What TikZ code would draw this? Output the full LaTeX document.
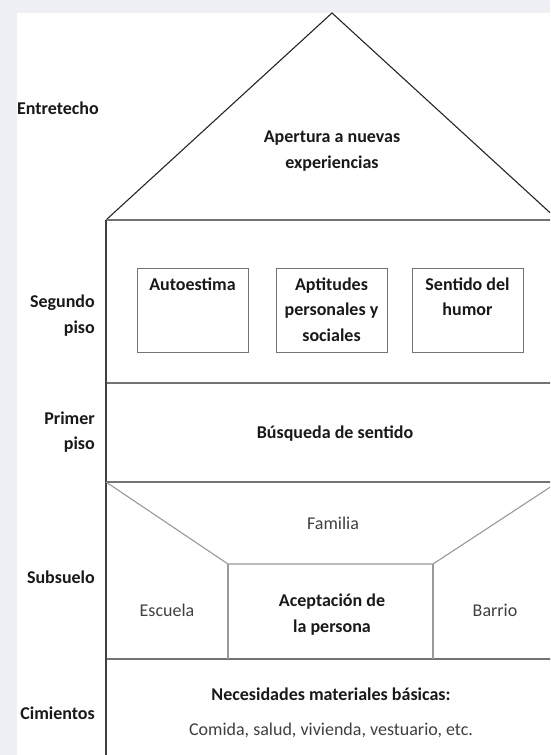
\documentclass[tikz,border=0pt]{standalone}
\usepackage{fontspec}
\setmainfont{Carlito}
\usetikzlibrary{positioning,calc}
\definecolor{pagegray}{RGB}{238,240,245}
\tikzset{
	tmp/.style   = {coordinate},
	roof/.style  = {draw=black!85, line width=1.1pt},
	wall/.style  = {draw=black!75, line width=1.4pt},
	floor/.style = {draw=black!55, line width=1.5pt},
	part/.style  = {draw=black!40, line width=1.1pt},
	block/.style = {draw=black!55, fill=white, rectangle, line width=1pt, minimum width=111pt, minimum height=84pt, inner sep=0pt},
	lvl/.style   = {font=\fontsize{18}{25.5}\selectfont\bfseries, align=right, anchor=east, inner sep=0pt, text=black!90},
	title/.style = {font=\fontsize{18}{25.5}\selectfont\bfseries, align=center, inner sep=0pt, text=black!90},
	plain/.style = {font=\fontsize{18}{25.5}\selectfont, align=center, inner sep=0pt, text=black!75}
}

\begin{document}
\begin{tikzpicture}[x=1pt, y=-1pt]
	\useasboundingbox (0,0) rectangle (550,755);
	\fill [pagegray] (0,0) rectangle (550,755);
	\fill [white] (17,13) rectangle (550,755);
	\clip (0,0) rectangle (550,755);
	% ========================== Nodes ============================
	% Corners of the house
	\node [tmp] (apex) at (332,13) {};
	\node [tmp] (eaveL) at (106,220) {};
	\node [tmp] (eaveR) at (558,220) {};
	\node [tmp] (f1L) at (106,383) {};
	\node [tmp] (f1R) at (558,383) {};
	\node [tmp] (f2L) at (106,482) {};
	\node [tmp] (f2R) at (558,482) {};
	\node [tmp] (f3L) at (106,659) {};
	\node [tmp] (f3R) at (558,659) {};
	\node [tmp] (baseL) at (106,760) {};
	\node [tmp] (baseR) at (558,760) {};
	\node [tmp] (famL) at (228,564) {};
	\node [tmp] (famR) at (433,564) {};

	% Levels on the left
	\node [lvl, anchor=west] (entre) at (17,108) {Entretecho};
	\node [lvl] (segundo) at (95,315.5) {Segundo\\piso};
	\node [lvl] (primer) at (95,432) {Primer\\piso};
	\node [lvl] (subsuelo) at (95,577) {Subsuelo};
	\node [lvl] (cimientos) at (95,713) {Cimientos};

	% Entretecho
	\node [title] (apertura) at (332,151) {Apertura a nuevas\\experiencias};

	% Segundo piso
	\node [block] (aptBox) at (331.5,310) {};
	\node [block, left=27pt of aptBox] (autoBox) {};
	\node [block, right=24pt of aptBox] (senBox) {};
	\node [title, below=10pt of autoBox.north] (auto) {Autoestima};
	\node [title, below=10pt of aptBox.north] (apt) {Aptitudes\\personales y\\sociales};
	\node [title, below=10pt of senBox.north] (sen) {Sentido del\\humor};

	% Primer piso
	\node [title] (busqueda) at (335,434) {Búsqueda de sentido};

	% Subsuelo
	\node [plain] (familia) at (333,523) {Familia};
	\node [plain] (escuela) at (167,610) {Escuela};
	\node [title] (aceptacion) at (332,614.5) {Aceptación de\\la persona};
	\node [plain] (barrio) at (495,610) {Barrio};

	% Cimientos
	\node [title] (necesidades) at (331,694) {Necesidades materiales básicas:};
	\node [plain] (comida) at (331,730) {Comida, salud, vivienda, vestuario, etc.};

	% ========================== Lines ============================
	\draw [roof] (eaveL) -- (apex) -- (eaveR);
	\draw [floor] (eaveL) -- (eaveR);
	\draw [floor] (f1L) -- (f1R);
	\draw [floor] (f2L) -- (f2R);
	\draw [floor] (f3L) -- (f3R);
	\draw [wall] (eaveL) -- (baseL);
	\draw [wall] (eaveR) -- (baseR);

	% Lines for the subsuelo
	\draw [part] (f2L) -- (famL) -- (famR) -- (f2R);
	\draw [part] (famL) -- (famL |- f3L);
	\draw [part] (famR) -- (famR |- f3R);
\end{tikzpicture}
\end{document}
